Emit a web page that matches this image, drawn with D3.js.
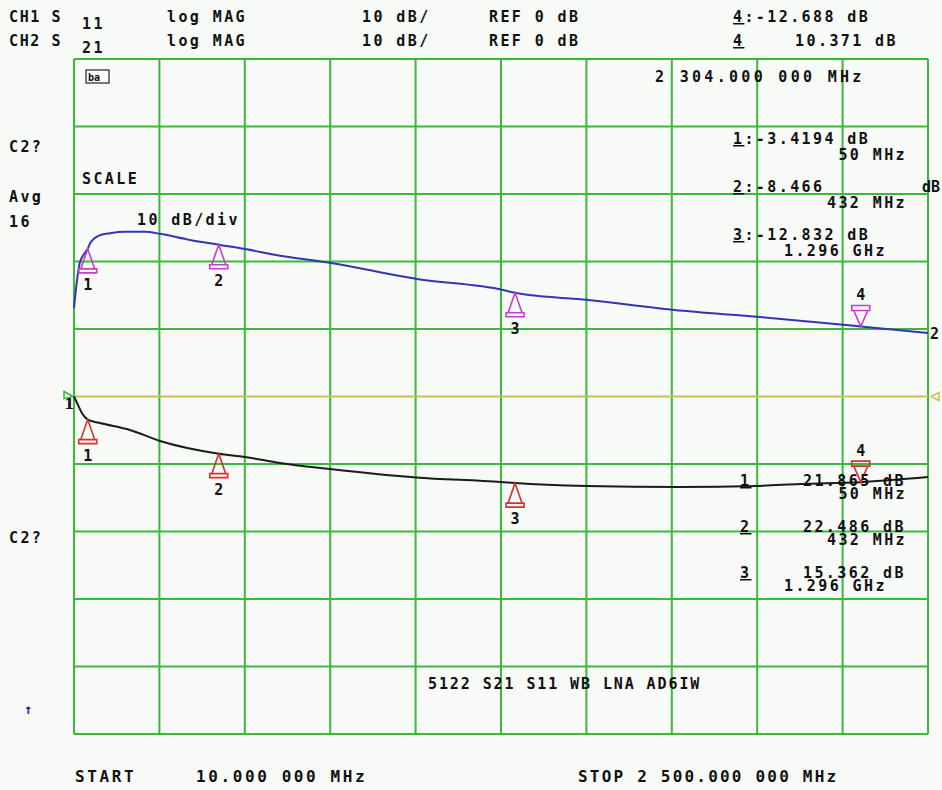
<!DOCTYPE html>
<html>
<head>
<meta charset="utf-8">
<script src="https://cdn.jsdelivr.net/npm/d3@7"></script>
<style>
  body { margin: 0; background: #f7faf7; }
  svg { display: block; }
  text { font-family: "DejaVu Sans Mono", monospace; font-weight: bold; font-size: 15px; fill: #111; letter-spacing: 2.4px; }
  .ul { text-decoration: underline; }
</style>
</head>
<body>
<svg id="svg1" width="942" height="790"></svg>
<script>
// sweep: 10 MHz .. 2500 MHz, 10 dB/div, REF 0 dB at centre line
var startMHz = 10, stopMHz = 2500;
var dbTicks = [-50, -40, -30, -20, -10, 0, 10, 20, 30, 40, 50];

// CH2 S21 trace (blue)
var s21Freq = [10, 19, 27, 42, 50, 57, 86, 115, 159, 217, 261, 348, 432, 509, 599, 759, 1010, 1261, 1296, 1509, 1760, 2010, 2261, 2304, 2500];
var s21dB   = [13.1, 17.3, 19.8, 21.3, 21.87, 22.7, 23.9, 24.2, 24.4, 24.4, 24.1, 23.2, 22.49, 21.85, 20.96, 19.78, 17.41, 15.78, 15.36, 14.3, 12.81, 11.78, 10.59, 10.37, 9.41];

// CH1 S11 trace (black)
var s11Freq = [10, 19, 33, 50, 86, 173, 261, 432, 509, 610, 756, 1007, 1255, 1296, 1505, 1777, 2001, 2127, 2304, 2500];
var s11dB   = [0, -0.96, -2.44, -3.42, -3.93, -4.96, -6.59, -8.47, -8.96, -9.85, -10.74, -12.0, -12.67, -12.83, -13.26, -13.4, -13.26, -12.96, -12.69, -11.93];

// markers
var markerNum  = [1, 2, 3, 4];
var markerFreq = [50, 432, 1296, 2304];
var markerFreqLabel = ['50 MHz', '432 MHz', '1.296 GHz', '2 304.000 000 MHz'];
var s11Marker = ['-3.4194', '-8.466', '-12.832', '-12.688'];
var s21Marker = ['21.865', '22.486', '15.362', '10.371'];

var svg = d3.select('#svg1');
var gLeft = 74, gRight = 928, gTop = 59, gBottom = 734;

var xScale = d3.scaleLinear().domain([startMHz, stopMHz]).range([gLeft, gRight]);
var yScale = d3.scaleLinear().domain([-50, 50]).range([gBottom, gTop]);
var xTicks = d3.range(11).map(i => startMHz + i * (stopMHz - startMHz) / 10);

var g = svg.append('g');

// graticule
g.selectAll('.vgrid')
  .data(xTicks)
  .enter()
  .append('line')
  .attr('x1', d => xScale(d)).attr('x2', d => xScale(d))
  .attr('y1', gTop).attr('y2', gBottom)
  .style('stroke', '#3cb83c').style('stroke-width', 2);
g.selectAll('.hgrid')
  .data(dbTicks)
  .enter()
  .append('line')
  .attr('x1', gLeft).attr('x2', gRight)
  .attr('y1', d => yScale(d)).attr('y2', d => yScale(d))
  .style('stroke', d => d === 0 ? '#c9c25a' : '#3cb83c')
  .style('stroke-width', 2);

// reference indicators
var y0 = yScale(0);
g.append('path')
  .attr('d', `M${gLeft - 10},${y0 - 5} L${gLeft - 1},${y0} L${gLeft - 10},${y0 + 2} Z`)
  .style('fill', 'none').style('stroke', '#3cb83c').style('stroke-width', 1.5);
g.append('path')
  .attr('d', `M${gRight + 11},${y0 - 4} L${gRight + 3},${y0} L${gRight + 11},${y0 + 4} Z`)
  .style('fill', 'none').style('stroke', '#c9c25a').style('stroke-width', 1.5);
g.append('text').attr('x', 64).attr('y', y0 + 12).style('font-family', 'DejaVu Serif').style('letter-spacing', '0px').text('1');
g.append('text').attr('x', gRight + 2).attr('y', yScale(s21dB[s21dB.length - 1]) + 6).style('letter-spacing', '0px').text('2');

// traces
var line = d3.line().curve(d3.curveMonotoneX);
g.append('path')
  .datum(d3.zip(s21Freq, s21dB))
  .attr('d', line.x(d => xScale(d[0])).y(d => yScale(d[1])))
  .style('fill', 'none').style('stroke', '#3434b4').style('stroke-width', 2);
g.append('path')
  .datum(d3.zip(s11Freq, s11dB))
  .attr('d', line.x(d => xScale(d[0])).y(d => yScale(d[1])))
  .style('fill', 'none').style('stroke', '#1c1c1c').style('stroke-width', 2);

// marker symbols
var upMark = 'M0,0 L-7,20 L7,20 Z M-9,20 L9,20 L9,24 L-9,24 Z';
var downMark = 'M0,0 L-7,-16 L7,-16 Z M-9,-16 L9,-16 L9,-21 L-9,-21 Z';
function drawMarkers(vals, color) {
  markerNum.forEach(function(n, i) {
    var mx = xScale(markerFreq[i]), my = yScale(+vals[i]);
    var isActive = n === 4;
    g.append('path')
      .attr('transform', `translate(${mx},${my})`)
      .attr('d', isActive ? downMark : upMark)
      .style('fill', 'none').style('stroke', color).style('stroke-width', 1.6);
    g.append('text')
      .attr('x', mx).attr('y', isActive ? my - 26 : my + 41)
      .attr('text-anchor', 'middle').style('letter-spacing', '0px')
      .text(n);
  });
}
drawMarkers(s21Marker, '#cc3ccc');
drawMarkers(s11Marker, '#d83030');

// header
g.append('text').attr('x', 9).attr('y', 22).style('letter-spacing', '1.6px').text('CH1 S');
g.append('text').attr('x', 82).attr('y', 29).text('11');
g.append('text').attr('x', 9).attr('y', 46).style('letter-spacing', '1.6px').text('CH2 S');
g.append('text').attr('x', 82).attr('y', 53).text('21');
[22, 46].forEach(function(yy) {
  g.append('text').attr('x', 167).attr('y', yy).text('log MAG');
  g.append('text').attr('x', 362).attr('y', yy).text('10 dB/');
  g.append('text').attr('x', 489).attr('y', yy).text('REF 0 dB');
});
var h1 = g.append('text').attr('x', 733).attr('y', 22);
h1.append('tspan').attr('class', 'ul').text('4');
h1.append('tspan').text(':' + s11Marker[3] + ' dB');
g.append('text').attr('x', 733).attr('y', 46).append('tspan').attr('class', 'ul').text('4');
g.append('text').attr('x', 898).attr('y', 46).attr('text-anchor', 'end').text(s21Marker[3] + ' dB');

// left annotations
g.append('text').attr('x', 9).attr('y', 152).text('C2?');
g.append('text').attr('x', 82).attr('y', 184).text('SCALE');
g.append('text').attr('x', 9).attr('y', 202).text('Avg');
g.append('text').attr('x', 9).attr('y', 227).text('16');
g.append('text').attr('x', 137).attr('y', 225).text('10 dB/div');
g.append('text').attr('x', 9).attr('y', 543).text('C2?');
g.append('text').attr('x', 24).attr('y', 714).style('fill', '#2020a0').style('font-size', '14px').text('↑');

// small logo box
g.append('rect').attr('x', 86).attr('y', 70).attr('width', 23).attr('height', 13)
  .style('fill', 'none').style('stroke', '#222').style('stroke-width', 1.2);
g.append('text').attr('x', 88).attr('y', 81).style('font-size', '10px').style('letter-spacing', '0px').text('ba');

// active marker stimulus
g.append('text').attr('x', 655).attr('y', 82).style('letter-spacing', '3.3px').text('2 ' + markerFreqLabel[3].slice(2));

// CH1 marker list (top right)
[0, 1, 2].forEach(function(i) {
  var yy = 144 + i * 48;
  var t = g.append('text').attr('x', 733).attr('y', yy);
  t.append('tspan').attr('class', 'ul').text(markerNum[i]);
  t.append('tspan').text(':' + s11Marker[i] + (i === 1 ? '' : ' dB'));
  if (i === 1) g.append('text').attr('x', 940).attr('y', yy).attr('text-anchor', 'end').style('letter-spacing', '0px').text('dB');
  g.append('text').attr('x', i === 2 ? 784 : 907).attr('y', yy + 16)
    .attr('text-anchor', i === 2 ? 'start' : 'end').text(markerFreqLabel[i]);
});

// CH2 marker list (lower right)
[0, 1, 2].forEach(function(i) {
  var yy = 486 + i * 46;
  g.append('text').attr('x', 740).attr('y', yy).attr('class', 'ul').text(markerNum[i]);
  g.append('text').attr('x', 803).attr('y', yy).text(s21Marker[i] + ' dB');
  g.append('text').attr('x', i === 2 ? 784 : 907).attr('y', yy + 13)
    .attr('text-anchor', i === 2 ? 'start' : 'end').text(markerFreqLabel[i]);
});

// title + sweep
g.append('text').attr('x', 428).attr('y', 689).style('letter-spacing', '1.9px').text('5122 S21 S11 WB LNA AD6IW');
g.append('text').attr('x', 75).attr('y', 782).style('font-size', '16px').style('letter-spacing', '2.6px').text('START');
g.append('text').attr('x', 196).attr('y', 782).style('font-size', '16px').style('letter-spacing', '2.6px').text('10.000 000 MHz');
g.append('text').attr('x', 578).attr('y', 782).style('font-size', '16px').style('letter-spacing', '2.2px').text('STOP 2 500.000 000 MHz');
</script>
</body>
</html>
